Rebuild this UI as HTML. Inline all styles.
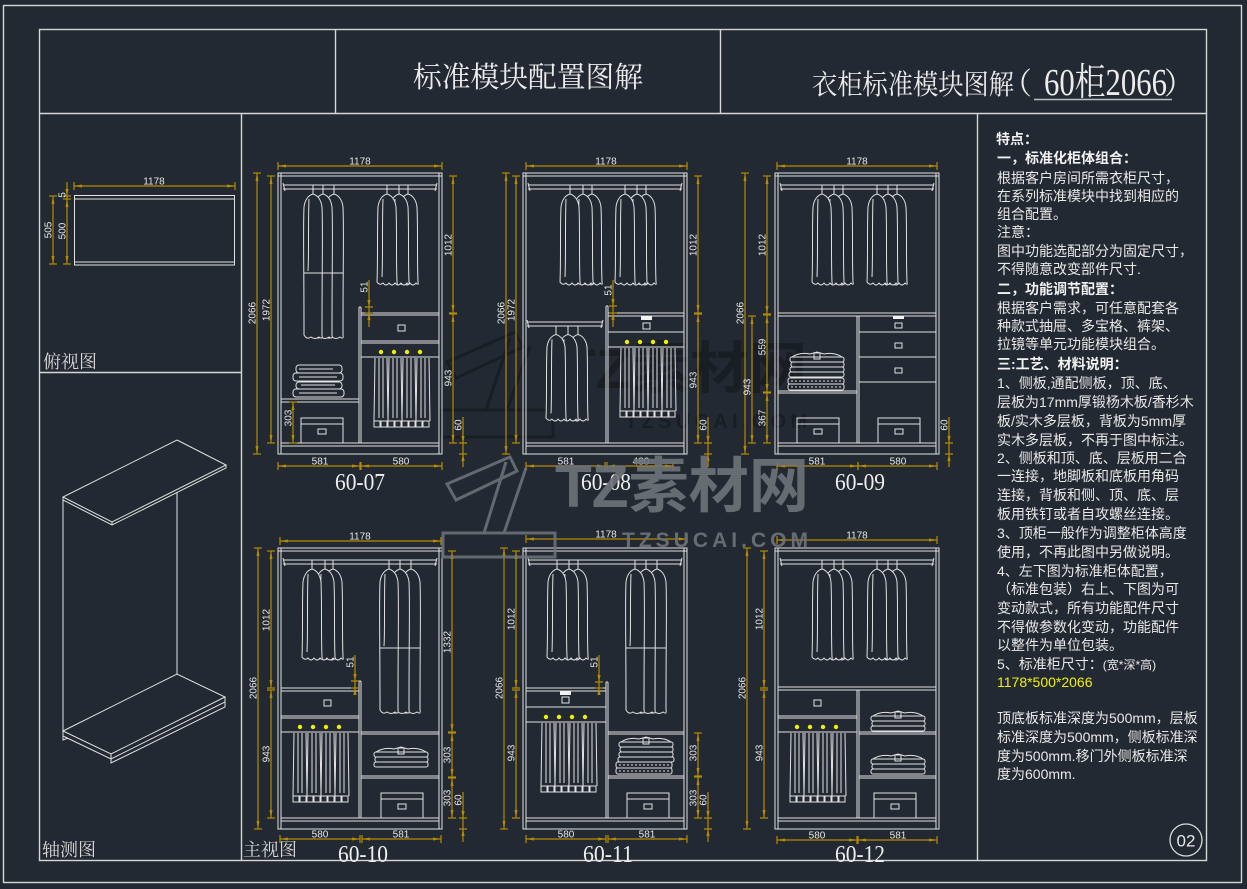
<!DOCTYPE html>
<html><head><meta charset="utf-8">
<style>
html,body{margin:0;padding:0;background:#232932;width:1247px;height:889px;overflow:hidden}
svg{display:block}
.w{fill:none;stroke:#e2e2e2;stroke-width:1}
.f{fill:none;stroke:#d6d6d6;stroke-width:1.4}
.d{fill:none;stroke:#b58c00;stroke-width:1.2;marker-start:url(#ar);marker-end:url(#ar)}
.y{fill:none;stroke:#b58c00;stroke-width:1.2}
.yf{fill:#b58c00;stroke:none}
.t{fill:#e6e6e6;font-family:"Liberation Sans",sans-serif;font-size:10px;text-anchor:middle}
.lb{fill:#eeeeee;font-family:"Liberation Serif",serif;font-size:24px;text-anchor:middle}
.dt{fill:#f0f000}
.cn{fill:#e8e8e8;font-family:"Liberation Sans","Noto Sans CJK SC",sans-serif;font-size:14px}
.cb{fill:#f2f2f2;font-family:"Liberation Sans","Noto Sans CJK SC",sans-serif;font-size:14px;font-weight:bold}
.lab{fill:#d8d8d8;font-family:"Liberation Serif","Noto Serif CJK SC",serif;font-size:18px}
</style></head><body>
<svg width="1247" height="889" viewBox="0 0 1247 889" xmlns="http://www.w3.org/2000/svg">
<defs>
<marker id="ar" markerUnits="userSpaceOnUse" markerWidth="12" markerHeight="12" refX="8" refY="6" orient="auto-start-reverse" overflow="visible">
<path d="M0,4.5 L8,6 L0,7.5 Z" fill="#b58c00"/>
<path d="M8,2 L8,10" stroke="#b58c00" stroke-width="1.2"/>
</marker>
<g id="cab" fill="none" stroke="#e2e2e2" stroke-width="1">
<rect x="0" y="0" width="164" height="281"/>
<path d="M3,0 V281 M161,0 V281 M0,3 H164 M3,270 H161 M3,273 H161"/>
<path d="M5,12 H159 M5,16 H159 M5,10 L7,18 M159,10 L157,18"/>
</g>
<g id="cs" fill="#232932" stroke="#e2e2e2" stroke-width="1">
<path d="M-1.5,0 H1.5 M0,0 V9" fill="none"/>
<path d="M0,9 C-4,10 -8,14 -9,22 C-10,45 -9,72 -10,97 Q-7,101 -4,98 Q-1,102 2,98 Q5,102 8,98 Q11,101 10,97 C9,72 10,45 9,22 C8,14 4,10 0,9 Z"/>
<path d="M-4,14 C-5,40 -4,70 -5,92" fill="none"/>
</g>
<g id="cl" fill="#232932" stroke="#e2e2e2" stroke-width="1">
<path d="M-1.5,0 H1.5 M0,0 V9" fill="none"/>
<path d="M0,9 C-4,10 -8,14 -9,22 C-10,45 -9,70 -9,150 Q-6,155 -2,152 Q2,155 6,152 Q10,155 9,150 C9,70 10,45 9,22 C8,14 4,10 0,9 Z"/>
<path d="M-9,88 H9 M-4,14 C-5,40 -4,70 -5,86" fill="none"/>
</g>
<g id="pt" fill="none" stroke="#e2e2e2" stroke-width="1">
<path d="M1,0L0,63 M5,0L5,60 M9,0L9,60 M13,0L14,63 M15,0L14,63 M19,0L19,60 M23,0L23,60 M27,0L28,63 M29,0L28,63 M33,0L33,60 M37,0L37,60 M41,0L42,63 M43,0L42,63 M47,0L47,60 M51,0L51,60 M55,0L56,63"/>
<path d="M0,63h6v6h-6z M7,63h6v6h-6z M14,63h6v6h-6z M21,63h6v6h-6z M28,63h6v6h-6z M35,63h6v6h-6z M42,63h6v6h-6z M49,63h6v6h-6z"/>
</g>
<g id="bx" fill="none" stroke="#e2e2e2" stroke-width="1">
<rect x="0" y="0" width="42" height="25"/><path d="M0,6 H42"/><rect x="17" y="11" width="8" height="5"/>
</g>
<g id="sh" fill="none" stroke="#e2e2e2" stroke-width="1">
<path d="M2,5 Q10,0 20,2 L27,0 L34,2 Q44,0 52,5"/>
<rect x="0" y="5" width="54" height="5" rx="2"/>
<rect x="1" y="10" width="53" height="5" rx="2"/>
<rect x="0" y="15" width="54" height="5" rx="2"/>
<rect x="24" y="1" width="6" height="6"/>
</g>
<g id="tw" fill="none" stroke="#e2e2e2" stroke-width="1">
<rect x="3" y="0" width="46" height="8" rx="3"/>
<rect x="0" y="8" width="50" height="8" rx="3"/>
<rect x="3" y="17" width="46" height="7" rx="3"/>
<rect x="0" y="24" width="51" height="8" rx="3"/>
<path d="M6,4 H40 M6,12 H44 M8,20 H42 M6,28 H44"/>
</g>
<g id="tb" fill="none" stroke="#e2e2e2" stroke-width="1">
<rect x="0" y="0" width="56" height="6" rx="2"/><rect x="0" y="6" width="56" height="6" rx="2"/>
<path d="M3,3 H53 M3,9 H53" stroke-dasharray="2,2"/>
</g>
</defs>

<rect x="0" y="0" width="1247" height="889" fill="#232932"/>

<g fill="none" stroke="#15191f" stroke-width="3" opacity="0.7">
<path d="M447,362 L515,332 L523,347 L456,378 Z M510,338 L486,410 M530,346 L507,410 M440,410 H553 V437 H440 Z"/>
</g>
<text x="560" y="388" fill="#15191f" opacity="0.7" font-family="Liberation Sans,Noto Sans CJK SC,sans-serif" font-weight="bold" font-size="56" textLength="247" lengthAdjust="spacingAndGlyphs">TZ素材网</text>
<text x="625" y="428" fill="#15191f" opacity="0.7" font-family="Liberation Sans,sans-serif" font-weight="bold" font-size="20" textLength="182" lengthAdjust="spacing">TZSUCAI.COM</text>

<rect class="f" x="3.5" y="5.5" width="1238" height="877"/>
<rect class="f" x="39.5" y="29.5" width="1167" height="831"/>
<path class="f" d="M39,113.5 H1206 M335.5,29 V113 M720.5,29 V113 M241.5,113 V860 M39,372.5 H241 M977.5,113 V860"/>

<text x="413" y="87" fill="#ececec" font-family="Liberation Serif,Noto Serif CJK SC,serif" font-size="29" textLength="230" lengthAdjust="spacingAndGlyphs">标准模块配置图解</text>
<text x="812" y="94" fill="#ececec" font-family="Liberation Serif,Noto Serif CJK SC,serif" font-size="28" textLength="202" lengthAdjust="spacingAndGlyphs">衣柜标准模块图解</text>
<text x="1002" y="94" fill="#ececec" font-family="Noto Serif CJK SC,serif" font-size="30">（</text>
<text x="1044" y="95" fill="#ececec" font-family="Liberation Serif,Noto Serif CJK SC,serif" font-size="38" textLength="123" lengthAdjust="spacingAndGlyphs">60柜2066</text>
<text x="1164" y="94" fill="#ececec" font-family="Noto Serif CJK SC,serif" font-size="30">）</text>
<path d="M1034,99.5 H1172" stroke="#bdbdbd" stroke-width="1.6"/>

<path class="w" d="M74,195.5 H235 M74,199 H235 M74,262 H235 M74,265 H235 M74.5,195 V265 M234.5,195 V265"/>
<path class="d" d="M74,186 H235"/><text class="t" x="154" y="184.5">1178</text>
<path class="d" d="M53,196 V264"/><text class="t" transform="translate(51.5,230) rotate(-90)">505</text>
<path class="d" d="M67,199 V264"/><text class="t" transform="translate(65.5,231) rotate(-90)">500</text>
<path class="y" d="M67,182 V199 M63,196 H71"/><path class="yf" d="M65.4,189 H68.6 L67,196 Z"/>
<text class="t" transform="translate(65.5,195) rotate(-90)">5</text>
<text class="lab" x="43" y="368">俯视图</text>

<path class="w" d="M177,440 L226,465 L112,522 L63,497 Z M63,497 V500 L112,525 L226,468 V465 M112,522 V525 M63,500 V731 M177,492 V674 M63,731 L177,674 L225,697 L111,754 Z M225,697 V702 L111,759 L63,736 V731 M111,754 V763 L225,707 V702 M63,736 V740 L68,738"/>
<text class="lab" x="42" y="856">轴测图</text>
<text class="lab" x="243" y="856">主视图</text>

<g transform="translate(278,173)">
<use href="#cab"/>
<path class="w" d="M81,134 V270 M83,134 V270 M81,134 H83"/>
<path class="w" d="M83,140 H161 M83,142 H161 M83,168 H161 M83,170 H161 M83,184 H161"/>
<rect class="w" x="120" y="152" width="7" height="6"/>
<circle class="dt" cx="103" cy="179" r="2.2"/><circle class="dt" cx="116" cy="179" r="2.2"/><circle class="dt" cx="129" cy="179" r="2.2"/><circle class="dt" cx="142" cy="179" r="2.2"/>
<use href="#pt" x="96" y="185"/>
<path class="w" d="M3,226 H81 M3,229 H81"/>
<use href="#tw" x="15" y="192"/>
<use href="#bx" x="23" y="245"/>
<use href="#cl" x="56" y="12"/><use href="#cl" x="45" y="12"/><use href="#cl" x="35" y="12"/>
<use href="#cs" x="130" y="12"/><use href="#cs" x="121" y="12"/><use href="#cs" x="109" y="12"/>
<path class="d" d="M0,-7 H164"/><text class="t" x="82" y="-8.5">1178</text>
<path class="d" d="M-21,0 V281"/><text class="t" transform="translate(-22.5,140) rotate(-90)">2066</text>
<path class="d" d="M-7,3 V270"/><text class="t" transform="translate(-8.5,137) rotate(-90)">1972</text>
<path class="d" d="M175,3 V140"/><text class="t" transform="translate(173.5,72) rotate(-90)">1012</text>
<path class="d" d="M175,141 V270"/><text class="t" transform="translate(173.5,205) rotate(-90)">943</text>
<path class="y" d="M185,244 V294 M181,270 H189 M181,281 H189"/><path class="yf" d="M183.4,263 H186.6 L185,270 Z M183.4,288 H186.6 L185,281 Z"/>
<text class="t" transform="translate(183.5,252) rotate(-90)">60</text>
<path class="y" d="M91,107 V154 M87,134 H95 M87,140 H95"/><path class="yf" d="M89.4,127 H92.6 L91,134 Z M89.4,147 H92.6 L91,140 Z"/>
<text class="t" transform="translate(89.5,114) rotate(-90)">51</text>
<path class="d" d="M15,229 V270"/><text class="t" transform="translate(13.5,245) rotate(-90)">303</text>
<path class="d" d="M0,293 H82"/><path class="d" d="M83,293 H164"/>
<text class="t" x="42" y="291.5">581</text><text class="t" x="123" y="291.5">580</text>
<text class="lb" x="82" y="317" textLength="50" lengthAdjust="spacingAndGlyphs">60-07</text>
</g>

<g transform="translate(523,173)">
<use href="#cab"/>
<path class="w" d="M83,133 V270 M85,133 V270 M83,133 H85"/>
<path class="w" d="M4,149 H80 M4,153 H80 M4,147 L6,155 M80,147 L78,155"/>
<path class="w" d="M85,140 H161 M85,143 H161 M85,159 H161 M85,174 H161"/>
<rect x="118" y="143" width="11" height="4" fill="#f2f2f2"/>
<rect class="w" x="120" y="150" width="7" height="6"/>
<circle class="dt" cx="104" cy="169" r="2.2"/><circle class="dt" cx="117" cy="169" r="2.2"/><circle class="dt" cx="130" cy="169" r="2.2"/><circle class="dt" cx="143" cy="169" r="2.2"/>
<use href="#pt" x="97" y="175"/>
<use href="#cs" x="69" y="12"/><use href="#cs" x="60" y="12"/><use href="#cs" x="47" y="12"/>
<use href="#cs" x="123" y="12"/><use href="#cs" x="114" y="12"/><use href="#cs" x="102" y="12"/>
<use href="#cs" transform="translate(55,153) scale(1,0.95)"/><use href="#cs" transform="translate(45,153) scale(1,0.95)"/><use href="#cs" transform="translate(33,153) scale(1,0.95)"/>
<path class="d" d="M3,-7 H164"/><text class="t" x="83" y="-8.5">1178</text>
<path class="d" d="M-17,0 V281"/><text class="t" transform="translate(-18.5,140) rotate(-90)">2066</text>
<path class="d" d="M-7,3 V270"/><text class="t" transform="translate(-8.5,137) rotate(-90)">1972</text>
<path class="d" d="M175,3 V140"/><text class="t" transform="translate(173.5,72) rotate(-90)">1012</text>
<path class="d" d="M175,141 V270"/><text class="t" transform="translate(173.5,207) rotate(-90)">943</text>
<path class="y" d="M185,244 V294 M181,270 H189 M181,281 H189"/><path class="yf" d="M183.4,263 H186.6 L185,270 Z M183.4,288 H186.6 L185,281 Z"/>
<text class="t" transform="translate(183.5,252) rotate(-90)">60</text>
<path class="y" d="M90,107 V154 M86,133 H94 M86,140 H94"/><path class="yf" d="M88.4,126 H91.6 L90,133 Z M88.4,147 H91.6 L90,140 Z"/>
<text class="t" transform="translate(88.5,117) rotate(-90)">51</text>
<path class="d" d="M3,293 H82"/><path class="d" d="M84,293 H150"/>
<text class="t" x="43" y="291.5">581</text><text class="t" x="118" y="291.5">480</text>
<text class="lb" x="83" y="317" textLength="50" lengthAdjust="spacingAndGlyphs">60-08</text>
</g>

<g transform="translate(775,173)">
<use href="#cab"/>
<path class="w" d="M3,140 H161 M3,143 H161 M82,143 V270 M84,143 V270"/>
<path class="w" d="M3,218 H82 M3,220 H82"/>
<use href="#sh" x="15" y="179"/>
<rect class="w" x="14" y="199" width="55" height="5" rx="2"/>
<use href="#tb" x="13" y="205"/>
<use href="#bx" x="22" y="245"/>
<path class="w" d="M84,159 H161 M84,184 H161 M84,209 H161"/>
<rect x="118" y="143" width="11" height="3" fill="#f2f2f2"/>
<rect class="w" x="120" y="150" width="7" height="5"/>
<rect class="w" x="120" y="170" width="7" height="5"/>
<rect class="w" x="120" y="195" width="7" height="5"/>
<use href="#bx" x="103" y="245"/>
<use href="#cs" x="68" y="12"/><use href="#cs" x="59" y="12"/><use href="#cs" x="47" y="12"/>
<use href="#cs" x="122" y="12"/><use href="#cs" x="113" y="12"/><use href="#cs" x="102" y="12"/>
<path class="d" d="M2,-7 H162"/><text class="t" x="82" y="-8.5">1178</text>
<path class="d" d="M-30,0 V281"/><text class="t" transform="translate(-31.5,140) rotate(-90)">2066</text>
<path class="d" d="M-8,3 V141"/><text class="t" transform="translate(-9.5,72) rotate(-90)">1012</text>
<path class="d" d="M-23,143 V270"/><text class="t" transform="translate(-24.5,214) rotate(-90)">943</text>
<path class="d" d="M-8,142 V219"/><text class="t" transform="translate(-9.5,174) rotate(-90)">559</text>
<path class="d" d="M-8,220 V270"/><text class="t" transform="translate(-9.5,245) rotate(-90)">367</text>
<path class="y" d="M174,244 V294 M170,270 H178 M170,281 H178"/><path class="yf" d="M172.4,263 H175.6 L174,270 Z M172.4,288 H175.6 L174,281 Z"/>
<text class="t" transform="translate(172.5,252) rotate(-90)">60</text>
<path class="d" d="M2,293 H83"/><path class="d" d="M83,293 H162"/>
<text class="t" x="42" y="291.5">581</text><text class="t" x="123" y="291.5">580</text>
<text class="lb" x="85" y="317" textLength="50" lengthAdjust="spacingAndGlyphs">60-09</text>
</g>

<g transform="translate(278,548)">
<use href="#cab"/>
<path class="w" d="M81,133 V270 M83,133 V270 M81,133 H83"/>
<path class="w" d="M3,140 H81 M3,143 H81 M3,168 H81 M3,170 H81 M3,184 H81"/>
<rect class="w" x="46" y="152" width="7" height="6"/>
<circle class="dt" cx="22" cy="179" r="2.2"/><circle class="dt" cx="35" cy="179" r="2.2"/><circle class="dt" cx="48" cy="179" r="2.2"/><circle class="dt" cx="61" cy="179" r="2.2"/>
<use href="#pt" x="15" y="185"/>
<path class="w" d="M83,184 H161 M83,186 H161 M83,228 H161 M83,230 H161"/>
<use href="#sh" x="96" y="199"/>
<use href="#bx" x="103" y="245"/>
<use href="#cs" x="55" y="12"/><use href="#cs" x="47" y="12"/><use href="#cs" x="34" y="12"/>
<use href="#cl" x="133" y="12"/><use href="#cl" x="122" y="12"/><use href="#cl" x="111" y="12"/>
<path class="d" d="M2,-7 H163"/><text class="t" x="82" y="-8.5">1178</text>
<path class="d" d="M-20,0 V281"/><text class="t" transform="translate(-21.5,140) rotate(-90)">2066</text>
<path class="d" d="M-7,3 V140"/><text class="t" transform="translate(-8.5,72) rotate(-90)">1012</text>
<path class="d" d="M-7,142 V270"/><text class="t" transform="translate(-8.5,206) rotate(-90)">943</text>
<path class="d" d="M174,3 V184"/><text class="t" transform="translate(172.5,94) rotate(-90)">1332</text>
<path class="d" d="M174,185 V229"/><text class="t" transform="translate(172.5,207) rotate(-90)">303</text>
<path class="d" d="M174,230 V270"/><text class="t" transform="translate(172.5,250) rotate(-90)">303</text>
<path class="y" d="M185,244 V294 M181,270 H189 M181,281 H189"/><path class="yf" d="M183.4,263 H186.6 L185,270 Z M183.4,288 H186.6 L185,281 Z"/>
<text class="t" transform="translate(183.5,252) rotate(-90)">60</text>
<path class="y" d="M77,107 V147 M73,133 H81 M73,140 H81"/><path class="yf" d="M75.4,126 H78.6 L77,133 Z M75.4,147 H78.6 L77,140 Z"/>
<text class="t" transform="translate(75.5,114) rotate(-90)">51</text>
<path class="d" d="M2,291 H82"/><path class="d" d="M84,291 H163"/>
<text class="t" x="42" y="289.5">580</text><text class="t" x="123" y="289.5">581</text>
<text class="lb" x="85" y="314" textLength="50" lengthAdjust="spacingAndGlyphs">60-10</text>
</g>

<g transform="translate(523,548)">
<use href="#cab"/>
<path class="w" d="M83,134 V270 M85,134 V270 M83,134 H85"/>
<path class="w" d="M3,140 H83 M3,143 H83 M3,159 H83 M3,174 H83"/>
<rect x="37" y="143" width="11" height="4" fill="#f2f2f2"/>
<rect class="w" x="39" y="149" width="7" height="6"/>
<circle class="dt" cx="23" cy="169" r="2.2"/><circle class="dt" cx="36" cy="169" r="2.2"/><circle class="dt" cx="49" cy="169" r="2.2"/><circle class="dt" cx="62" cy="169" r="2.2"/>
<use href="#pt" x="18" y="175"/>
<path class="w" d="M85,184 H161 M85,186 H161 M85,228 H161 M85,230 H161"/>
<use href="#sh" x="96" y="189"/>
<rect class="w" x="95" y="209" width="56" height="5" rx="2"/>
<use href="#tb" x="93" y="214"/>
<use href="#bx" x="104" y="245"/>
<use href="#cs" x="55" y="12"/><use href="#cs" x="46" y="12"/><use href="#cs" x="34" y="12"/>
<use href="#cl" x="134" y="12"/><use href="#cl" x="123" y="12"/><use href="#cl" x="112" y="12"/>
<path class="d" d="M3,-9 H164"/><text class="t" x="83" y="-10.5">1178</text>
<path class="d" d="M-19,0 V281"/><text class="t" transform="translate(-20.5,140) rotate(-90)">2066</text>
<path class="d" d="M-7,3 V140"/><text class="t" transform="translate(-8.5,71) rotate(-90)">1012</text>
<path class="d" d="M-7,142 V270"/><text class="t" transform="translate(-8.5,205) rotate(-90)">943</text>
<path class="d" d="M175,185 V228"/><text class="t" transform="translate(173.5,205) rotate(-90)">303</text>
<path class="d" d="M175,229 V270"/><text class="t" transform="translate(173.5,250) rotate(-90)">303</text>
<path class="y" d="M185,244 V294 M181,270 H189 M181,281 H189"/><path class="yf" d="M183.4,263 H186.6 L185,270 Z M183.4,288 H186.6 L185,281 Z"/>
<text class="t" transform="translate(183.5,252) rotate(-90)">60</text>
<path class="y" d="M76,107 V147 M72,134 H80 M72,140 H80"/><path class="yf" d="M74.4,127 H77.6 L76,134 Z M74.4,147 H77.6 L76,140 Z"/>
<text class="t" transform="translate(74.5,114) rotate(-90)">51</text>
<path class="d" d="M3,291 H83"/><path class="d" d="M85,291 H164"/>
<text class="t" x="43" y="289.5">580</text><text class="t" x="124" y="289.5">581</text>
<text class="lb" x="85" y="314" textLength="50" lengthAdjust="spacingAndGlyphs">60-11</text>
</g>

<g transform="translate(775,548)">
<use href="#cab"/>
<path class="w" d="M3,139 H161 M3,142 H161 M82,142 V270 M84,142 V270"/>
<path class="w" d="M3,168 H82 M3,170 H82 M3,184 H82"/>
<rect class="w" x="39" y="152" width="7" height="6"/>
<circle class="dt" cx="22" cy="179" r="2.2"/><circle class="dt" cx="35" cy="179" r="2.2"/><circle class="dt" cx="48" cy="179" r="2.2"/><circle class="dt" cx="61" cy="179" r="2.2"/>
<use href="#pt" x="15" y="185"/>
<path class="w" d="M84,184 H161 M84,186 H161 M84,228 H161 M84,230 H161"/>
<use href="#sh" x="96" y="163"/>
<use href="#sh" x="96" y="206"/>
<use href="#bx" x="99" y="245"/>
<use href="#cs" x="68" y="12"/><use href="#cs" x="59" y="12"/><use href="#cs" x="47" y="12"/>
<use href="#cs" x="122" y="12"/><use href="#cs" x="113" y="12"/><use href="#cs" x="102" y="12"/>
<path class="d" d="M2,-8 H162"/><text class="t" x="82" y="-9.5">1178</text>
<path class="d" d="M-28,0 V281"/><text class="t" transform="translate(-29.5,140) rotate(-90)">2066</text>
<path class="d" d="M-11,3 V140"/><text class="t" transform="translate(-12.5,71) rotate(-90)">1012</text>
<path class="d" d="M-11,142 V270"/><text class="t" transform="translate(-12.5,205) rotate(-90)">943</text>
<path class="d" d="M2,292 H82"/><path class="d" d="M83,292 H162"/>
<text class="t" x="42" y="290.5">580</text><text class="t" x="123" y="290.5">581</text>
<text class="lb" x="85" y="314" textLength="50" lengthAdjust="spacingAndGlyphs">60-12</text>
</g>

<g fill="none" stroke="#6f747b" stroke-width="3" opacity="0.85">
<path d="M447,484 L510,457 L517,471 L456,500 Z M506,462 L484,533 M526,468 L504,533 M443,533 H555 V557 H443 Z"/>
</g>
<text x="555" y="507" fill="#6f747b" opacity="0.9" font-family="Liberation Sans,Noto Sans CJK SC,sans-serif" font-weight="bold" font-size="60" textLength="254" lengthAdjust="spacingAndGlyphs">TZ素材网</text>
<text x="622" y="547" fill="#6f747b" opacity="0.9" font-family="Liberation Sans,sans-serif" font-weight="bold" font-size="21" textLength="186" lengthAdjust="spacing">TZSUCAI.COM</text>

<text class="cb" x="996" y="144" font-size="17">特点：</text>
<text class="cb" x="997" y="163">一，标准化柜体组合：</text>
<text class="cn" x="997" y="183">根据客户房间所需衣柜尺寸，</text>
<text class="cn" x="997" y="201">在系列标准模块中找到相应的</text>
<text class="cn" x="997" y="219">组合配置。</text>
<text class="cn" x="997" y="237">注意：</text>
<text class="cn" x="997" y="256">图中功能选配部分为固定尺寸，</text>
<text class="cn" x="997" y="274">不得随意改变部件尺寸.</text>
<text class="cb" x="997" y="294">二，功能调节配置：</text>
<text class="cn" x="997" y="313">根据客户需求，可任意配套各</text>
<text class="cn" x="997" y="331">种款式抽屉、多宝格、裤架、</text>
<text class="cn" x="997" y="349">拉镜等单元功能模块组合。</text>
<text class="cb" x="997" y="369">三:工艺、材料说明：</text>
<text class="cn" x="997" y="388">1、侧板,通配侧板，顶、底、</text>
<text class="cn" x="997" y="407">层板为17mm厚锻杨木板/香杉木</text>
<text class="cn" x="997" y="426">板/实木多层板，背板为5mm厚</text>
<text class="cn" x="997" y="445">实木多层板，不再于图中标注。</text>
<text class="cn" x="997" y="463">2、侧板和顶、底、层板用二合</text>
<text class="cn" x="997" y="481">一连接，地脚板和底板用角码</text>
<text class="cn" x="997" y="500">连接，背板和侧、顶、底、层</text>
<text class="cn" x="997" y="519">板用铁钉或者自攻螺丝连接。</text>
<text class="cn" x="997" y="538">3、顶柜一般作为调整柜体高度</text>
<text class="cn" x="997" y="557">使用，不再此图中另做说明。</text>
<text class="cn" x="997" y="576">4、左下图为标准柜体配置，</text>
<text class="cn" x="997" y="594">（标准包装）右上、下图为可</text>
<text class="cn" x="997" y="613">变动款式，所有功能配件尺寸</text>
<text class="cn" x="997" y="632">不得做参数化变动，功能配件</text>
<text class="cn" x="997" y="650">以整件为单位包装。</text>
<text class="cn" x="997" y="669">5、标准柜尺寸：<tspan font-size="12">(宽*深*高)</tspan></text>
<text class="cn" x="997" y="687" style="fill:#f0f000">1178*500*2066</text>
<text class="cn" x="997" y="723">顶底板标准深度为500mm，层板</text>
<text class="cn" x="997" y="742">标准深度为500mm，侧板标准深</text>
<text class="cn" x="997" y="761">度为500mm.移门外侧板标准深</text>
<text class="cn" x="997" y="779">度为600mm.</text>
<circle cx="1186" cy="840" r="16" fill="none" stroke="#dcdcdc" stroke-width="1.3"/>
<text x="1186" y="846.5" fill="#e8e8e8" font-family="Liberation Sans,sans-serif" font-size="17" text-anchor="middle">02</text>
</svg>
</body></html>
